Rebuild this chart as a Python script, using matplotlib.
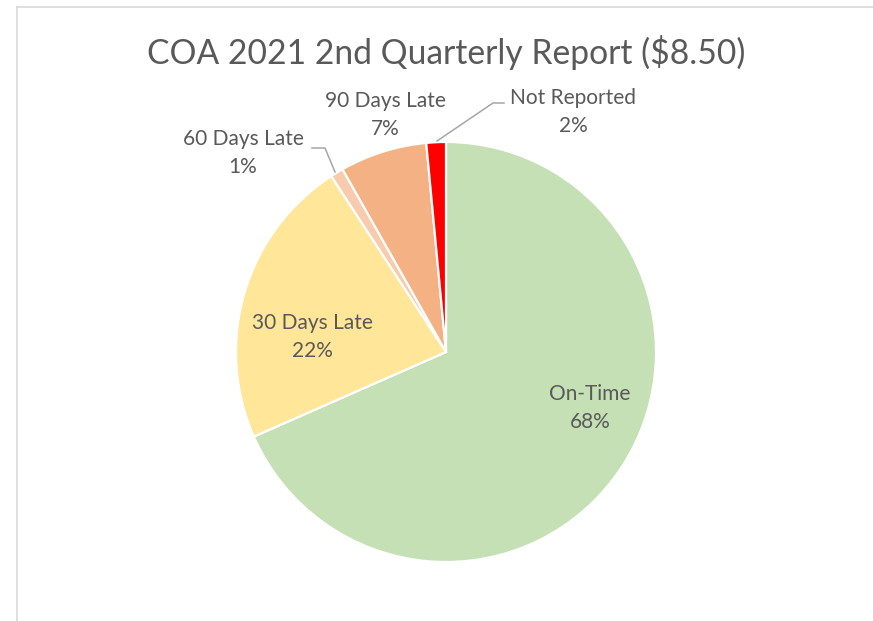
import numpy as np
import matplotlib.pyplot as plt
from matplotlib.lines import Line2D

# donnees (sens horaire depuis midi)
categories = ['On-Time', '30 Days Late', '60 Days Late', '90 Days Late', 'Not Reported']
values = [68.4, 22.4, 1.0, 6.7, 1.5]
colors = ['#C5E0B4', '#FFE699', '#F8CBAD', '#F4B183', '#FF0000']
title = 'COA 2021 2nd Quarterly Report ($8.50)'

W, H = 873, 621
txt_color = '#595959'
plt.rcParams['font.family'] = ['Lato', 'DejaVu Sans']

fig = plt.figure(figsize=(W / 100, H / 100), dpi=100)
ax = fig.add_axes([0, 0, 1, 1])

def py(y):
    # coordonnees pixel (origine en haut) -> axes
    return H - y

ax.pie(values, colors=colors, startangle=90, counterclock=False,
       center=(446, py(352)), radius=210, frame=True,
       wedgeprops=dict(edgecolor='white', linewidth=1.6))
ax.set_xlim(0, W)
ax.set_ylim(0, H)
ax.set_aspect('equal')
ax.axis('off')

# cadre du graphique (coupe a droite et en bas)
ax.add_line(Line2D([16.5, 16.5], [py(6.5), 0], color='#D9D9D9', lw=1.2))
ax.add_line(Line2D([16.5, W], [py(6.5), py(6.5)], color='#D9D9D9', lw=1.2))

ax.text(446, py(52), title, ha='center', va='center', fontsize=24.2, color=txt_color)

pct = [int(v + 0.5) for v in values]
label_pos = [(590, 408), (312, 337), (243, 153), (385, 115), (573, 112)]
for name, p, (x, y) in zip(categories, pct, label_pos):
    ax.text(x, py(y), f'{name}\n{p}%', ha='center', va='center', fontsize=15,
            color=txt_color, linespacing=1.45)

# lignes de rappel
ax.add_line(Line2D([312, 325, 335], [py(148), py(148), py(172)], color='#A6A6A6', lw=1.1))
ax.add_line(Line2D([437, 493, 504], [py(141), py(103), py(103)], color='#A6A6A6', lw=1.1))

fig.savefig('out.png', dpi=100, facecolor='white')
